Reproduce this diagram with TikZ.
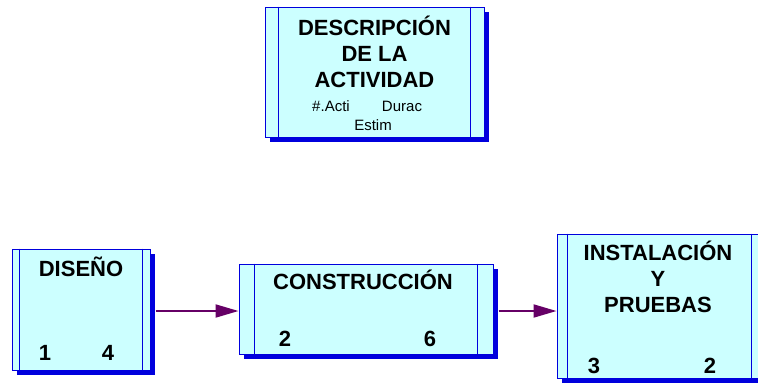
\documentclass[tikz,border=0pt]{standalone}
\usepackage{fontspec}
\setmainfont{Liberation Sans}
\usetikzlibrary{positioning,shadows,calc,arrows.meta}
\definecolor{boxfill}{HTML}{CCFFFF}
\definecolor{boxline}{HTML}{0000DD}
\definecolor{linkcol}{HTML}{660066}

\begin{document}
\begin{tikzpicture}[x=1pt,y=-1pt,
actbox/.style={draw=boxline,fill=boxfill,line width=1pt,rectangle,inner sep=0pt,
    drop shadow={shadow xshift=5pt,shadow yshift=-5pt,fill=boxline,opacity=1}},
acttitle/.style={font=\bfseries\fontsize{22}{26}\selectfont,align=center,inner sep=0pt},
actnum/.style={font=\bfseries\fontsize{22}{26}\selectfont,inner sep=0pt},
actsmall/.style={font=\fontsize{15}{18}\selectfont,inner sep=0pt},
link/.style={draw=linkcol,line width=2pt,shorten <=5pt,-{Triangle[length=23pt,width=13pt]}}]
\useasboundingbox (0,0) rectangle (758,389);

% legend box
\node (desc) [actbox,minimum width=219pt,minimum height=130pt] at (374.5,72) {};
\node (desctitle) [acttitle,below=9pt of desc.north] {DESCRIPCIÓN\\DE LA\\ACTIVIDAD};
\node (descacti) [actsmall] at ($(desc.south)+(-43.5,-31)$) {\#.Acti};
\node (descdurac) [actsmall] at ($(desc.south)+(27.5,-31)$) {Durac};
\node (descestim) [actsmall] at ($(desc.south)+(-1.5,-12)$) {Estim};

% activities
\node (diseno) [actbox,minimum width=138pt,minimum height=121pt] at (81,309.5) {};
\node (constr) [actbox,minimum width=254pt,minimum height=90pt] at (366,309) {};
\node (instal) [actbox,minimum width=205pt,minimum height=144pt] at (659.5,306) {};

\foreach \n/\d in {desc/14,diseno/8,constr/16,instal/11} {
  \draw[boxline,line width=1pt] ($(\n.north west)+(\d,0)$) -- ($(\n.south west)+(\d,0)$);
  \draw[boxline,line width=1pt] ($(\n.north east)+(-\d,0)$) -- ($(\n.south east)+(-\d,0)$);
}

\node (disenotitle) [acttitle,below=8pt of diseno.north] {DISEÑO};
\node (disenoa) [actnum] at ($(diseno.south)+(-36,-18)$) {1};
\node (disenob) [actnum] at ($(diseno.south)+(27,-18)$) {4};

\node (constrtitle) [acttitle,below=6pt of constr.north,xshift=-3pt] {CONSTRUCCIÓN};
\node (constra) [actnum] at ($(constr.south)+(-81,-16)$) {2};
\node (constrb) [actnum] at ($(constr.south)+(64,-16)$) {6};

\node (instaltitle) [acttitle,below=7pt of instal.north,xshift=-1.5pt] {INSTALACIÓN\\Y\\PRUEBAS};
\node (instala) [actnum] at ($(instal.south)+(-65.5,-13)$) {3};
\node (instalb) [actnum] at ($(instal.south)+(50.5,-13)$) {2};

% links
\coordinate (d1) at ($(diseno.east)+(0,1.5)$);
\coordinate (c1) at ($(constr.east)+(0,2)$);
\draw[link] (d1) -- (d1 -| constr.west);
\draw[link] (c1) -- (c1 -| instal.west);
\end{tikzpicture}
\end{document}
